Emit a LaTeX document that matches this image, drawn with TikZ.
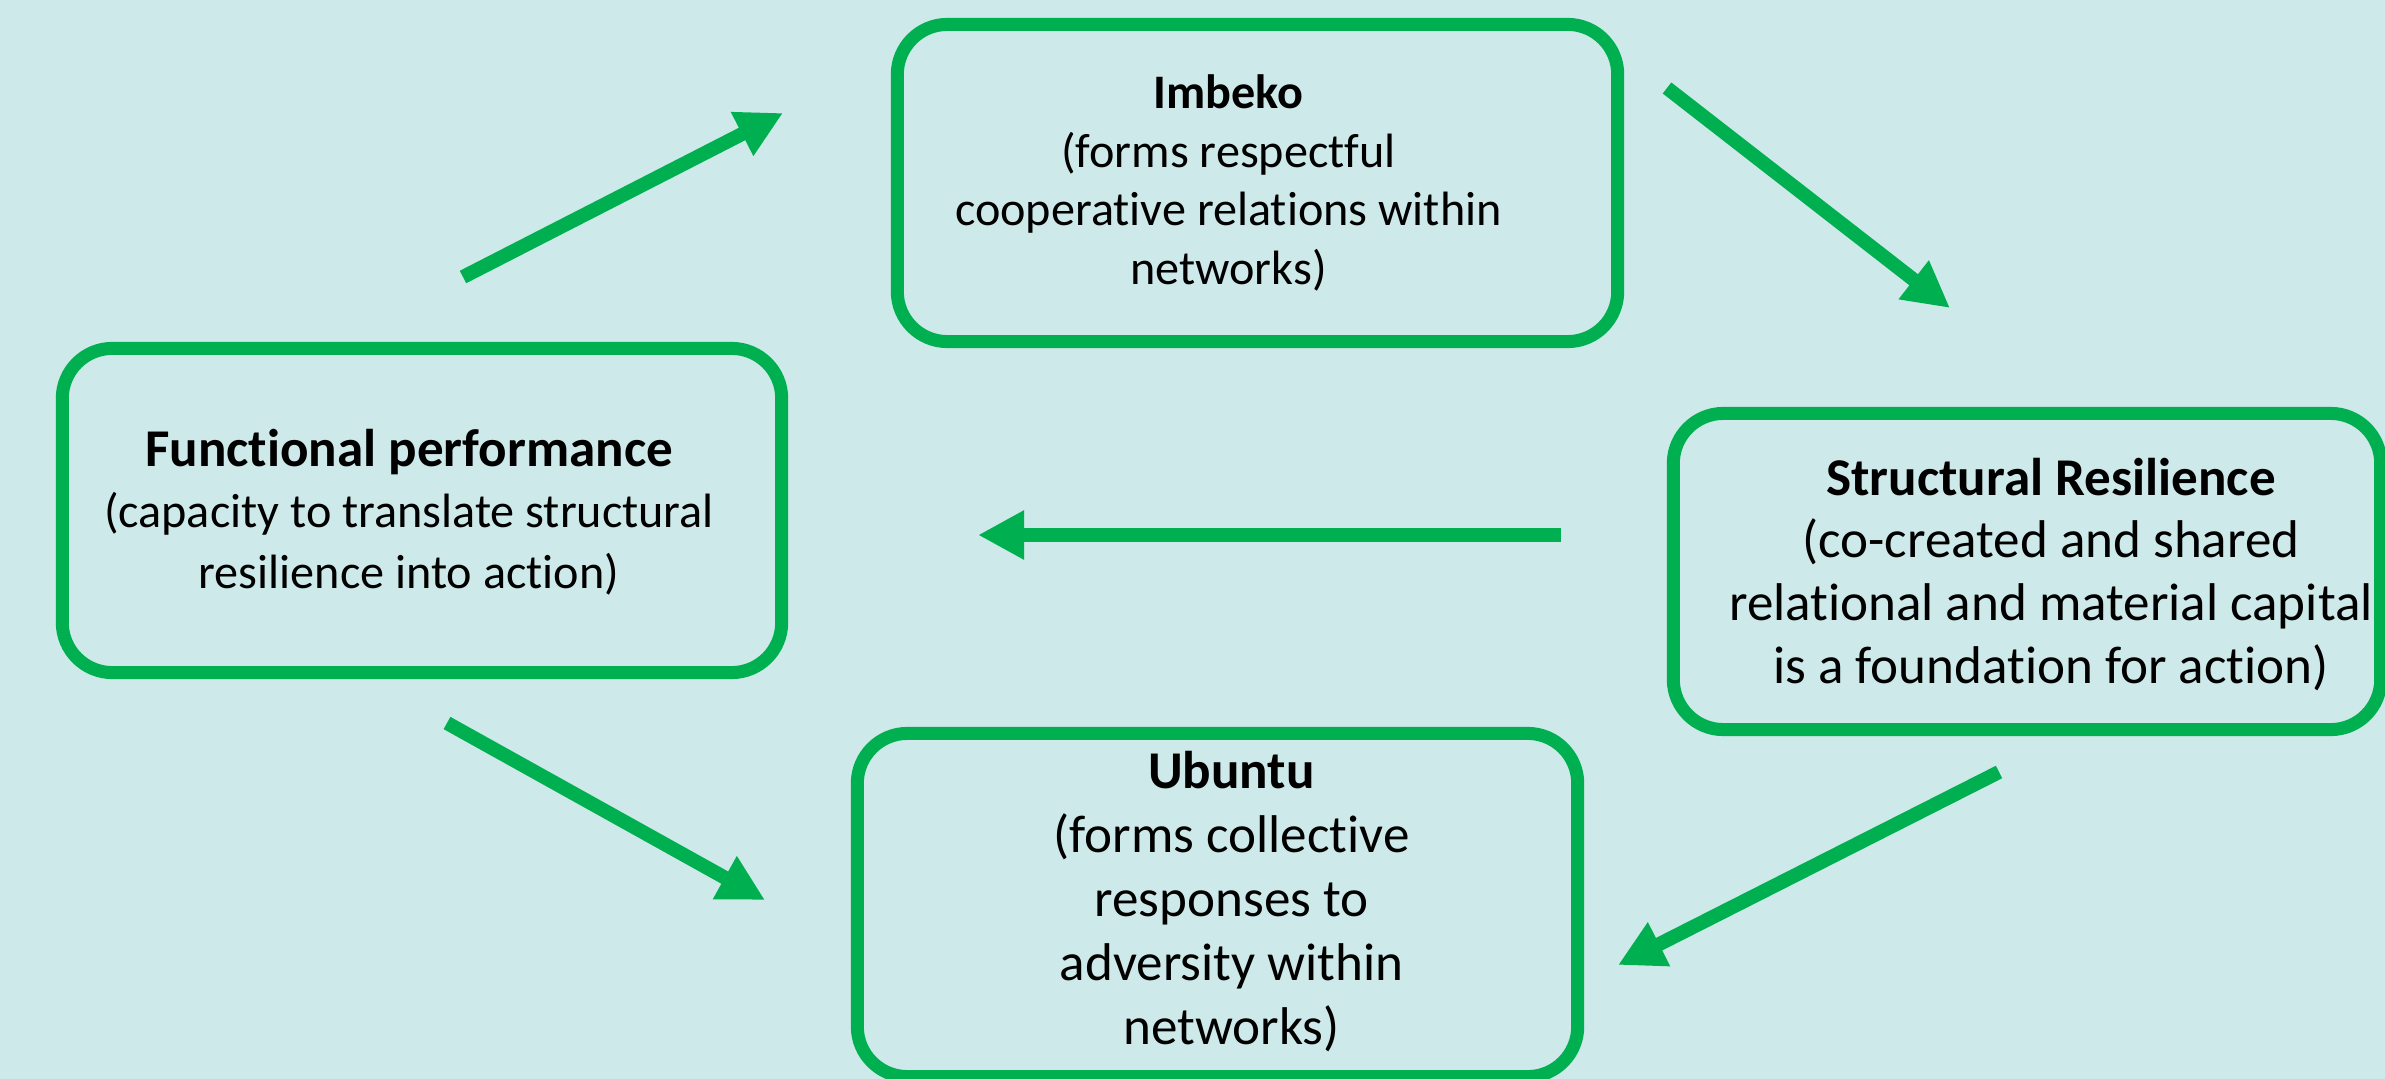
\documentclass[tikz,border=0pt]{standalone}
\usepackage{fontspec}
\setmainfont[Ligatures=NoCommon]{Carlito}
\usetikzlibrary{arrows.meta}
\definecolor{bgcyan}{RGB}{205,233,233}
\definecolor{leafgreen}{RGB}{0,176,80}

\begin{document}
\begin{tikzpicture}[x=0.01cm, y=-0.01cm,
  box/.style={draw=leafgreen, line width=0.13cm, rounded corners=0.5cm,
    minimum width=7.2cm, inner sep=0pt},
  txt/.style={align=center, anchor=center, inner sep=0pt},
  flow/.style={draw=leafgreen, line width=0.14cm,
    -{Triangle[length=0.46cm, width=0.46cm]}},
]
  \path[use as bounding box, fill=bgcyan] (0,0) rectangle (2385,1079);
  \node[box, minimum height=3.17cm,
    label={[txt, xshift=-0.29cm, font=\fontsize{13.7pt}{16.6pt}\selectfont]center:{\textbf{Imbeko}\\(forms respectful\\cooperative relations within\\networks)}}]
    (imbeko) at (1257.5,183) {};
  \node[box, minimum width=7.19cm, minimum height=3.24cm,
    label={[txt, xshift=-0.13cm, yshift=-0.02cm, font=\fontsize{13.7pt}{17.4pt}\selectfont]center:{{\fontsize{15.1pt}{17.4pt}\selectfont\bfseries Functional performance}\\(capacity to translate structural\\resilience into action)}}]
    (func) at (422,510.5) {};
  \node[box, minimum width=7.07cm, minimum height=3.16cm,
    label={[txt, xshift=0.24cm, yshift=-0.03cm, font=\fontsize{15.1pt}{17.9pt}\selectfont]center:{\textbf{Structural Resilience}\\(co-created and shared\\relational and material capital\\is a foundation for action)}}]
    (struct) at (2027,571.5) {};
  \node[box, minimum height=3.43cm,
    label={[txt, xshift=0.14cm, yshift=0.03cm, font=\fontsize{15.1pt}{18.2pt}\selectfont]center:{\textbf{Ubuntu}\\(forms collective\\responses to\\adversity within\\networks)}}]
    (ubuntu) at (1217.5,905) {};
  % arrow ends
  \coordinate (s1) at (463,277);   \coordinate (t1) at (783,113);
  \coordinate (s2) at (1667,88);   \coordinate (t2) at (1950,308);
  \coordinate (s3) at (1561,535);  \coordinate (t3) at (978,535);
  \coordinate (s4) at (1999,772);  \coordinate (t4) at (1618,965);
  \coordinate (s5) at (447,723);   \coordinate (t5) at (765,900);
  \foreach \a/\b in {s1/t1, s2/t2, s3/t3, s4/t4, s5/t5}
    \draw[flow] (\a) -- (\b);
\end{tikzpicture}
\end{document}
